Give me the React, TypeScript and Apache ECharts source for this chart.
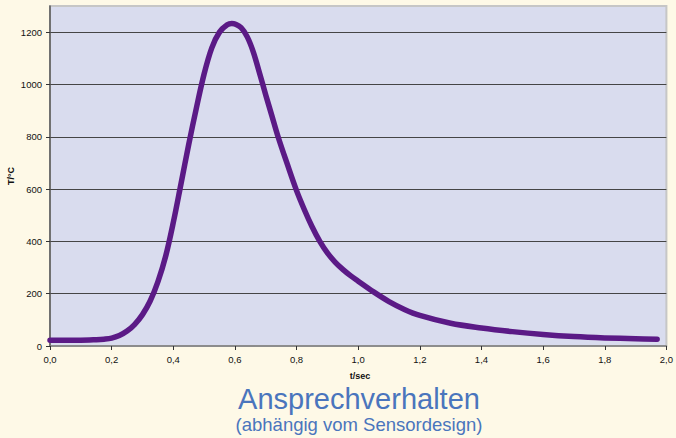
import React, { useEffect, useRef } from "react";
import * as echarts from "echarts";

const tValues = [0, 0.05, 0.1, 0.15, 0.175, 0.2, 0.225, 0.25, 0.275, 0.3, 0.325, 0.35, 0.375, 0.4, 0.425, 0.45, 0.475, 0.5, 0.525, 0.55, 0.575, 0.59, 0.6, 0.62, 0.64, 0.66, 0.68, 0.7, 0.72, 0.74, 0.77, 0.8, 0.825, 0.85, 0.875, 0.9, 0.925, 0.95, 0.975, 1.0, 1.05, 1.1, 1.15, 1.2, 1.3, 1.4, 1.5, 1.6, 1.7, 1.8, 1.9, 1.97];
const tempValues = [22, 22, 22, 24, 26, 30, 40, 57, 83, 120, 172, 245, 342, 472, 620, 770, 910, 1040, 1140, 1200, 1228, 1233, 1231, 1217, 1182, 1123, 1043, 960, 880, 800, 695, 594, 522, 457, 401, 356, 321, 293, 269, 248, 207, 170, 140, 117, 87, 69, 55, 44, 36, 31, 28, 26];
const yTicks = [0, 200, 400, 600, 800, 1000, 1200];
const xTicks = [0, 0.2, 0.4, 0.6, 0.8, 1.0, 1.2, 1.4, 1.6, 1.8, 2.0];
const titleText = "Ansprechverhalten";
const subtitleText = "(abhängig vom Sensordesign)";
const xName = "t/sec";
const yName = "T/°C";

const FONT = "'Liberation Sans', Arial, Helvetica, sans-serif";

export default function App() {
  const ref = useRef<HTMLDivElement>(null);
  useEffect(() => {
    if (!ref.current) return;
    const chart = echarts.init(ref.current, null, { renderer: "svg" });
    chart.setOption({
      animation: false,
      backgroundColor: "#fef9e7",
      textStyle: { fontFamily: FONT },
      grid: {
        left: 50,
        top: 6,
        right: 6,
        bottom: 92,
        show: true,
        backgroundColor: "#d9dcee",
        borderColor: "#c6c6c6",
        borderWidth: 2,
      },
      xAxis: {
        type: "value",
        min: 0,
        max: 2,
        interval: 0.2,
        axisLine: { show: true, lineStyle: { color: "#7a7a7a", width: 1.5 } },
        axisTick: { show: true, length: 4, lineStyle: { color: "#333" }, customValues: xTicks },
        splitLine: { show: false },
        axisLabel: {
          customValues: xTicks,
          margin: 8,
          fontSize: 9.5,
          color: "#111",
          fontFamily: FONT,
          formatter: (v: number) => v.toFixed(1).replace(".", ","),
        },
      },
      yAxis: {
        type: "value",
        min: 0,
        max: 1300,
        interval: 200,
        axisLine: { show: true, lineStyle: { color: "#555", width: 1.5 } },
        axisTick: { show: true, length: 4, lineStyle: { color: "#333" }, customValues: yTicks },
        splitLine: { show: true, showMinLine: false, lineStyle: { color: "#454545", width: 1 } },
        axisLabel: {
          customValues: yTicks,
          margin: 8,
          fontSize: 9.5,
          color: "#111",
          fontFamily: FONT,
          formatter: (v: number) => String(v),
        },
      },
      graphic: [
        {
          type: "text",
          x: 360,
          y: 376,
          style: { text: xName, font: `bold 9px ${FONT}`, fill: "#111", textAlign: "center", textVerticalAlign: "middle" },
        },
        {
          type: "text",
          x: 11,
          y: 176,
          rotation: Math.PI / 2,
          style: { text: yName, font: `bold 9px ${FONT}`, fill: "#111", textAlign: "center", textVerticalAlign: "middle" },
        },
        {
          type: "text",
          x: 359,
          y: 399,
          style: { text: titleText, font: `29px ${FONT}`, fill: "#4a75bd", textAlign: "center", textVerticalAlign: "middle" },
        },
        {
          type: "text",
          x: 359,
          y: 424,
          style: { text: subtitleText, font: `18.5px ${FONT}`, fill: "#4a75bd", textAlign: "center", textVerticalAlign: "middle" },
        },
      ],
      series: [
        {
          type: "line",
          data: tValues.map((t, i) => [t, tempValues[i]]),
          smooth: 0.35,
          showSymbol: false,
          symbol: "none",
          clip: false,
          lineStyle: { color: "#5b1a86", width: 5.5, cap: "round", join: "round" },
        },
      ],
    });
    return () => chart.dispose();
  }, []);
  return <div ref={ref} style={{ position: "fixed", left: 0, top: 0, width: 676, height: 438 }} />;
}
